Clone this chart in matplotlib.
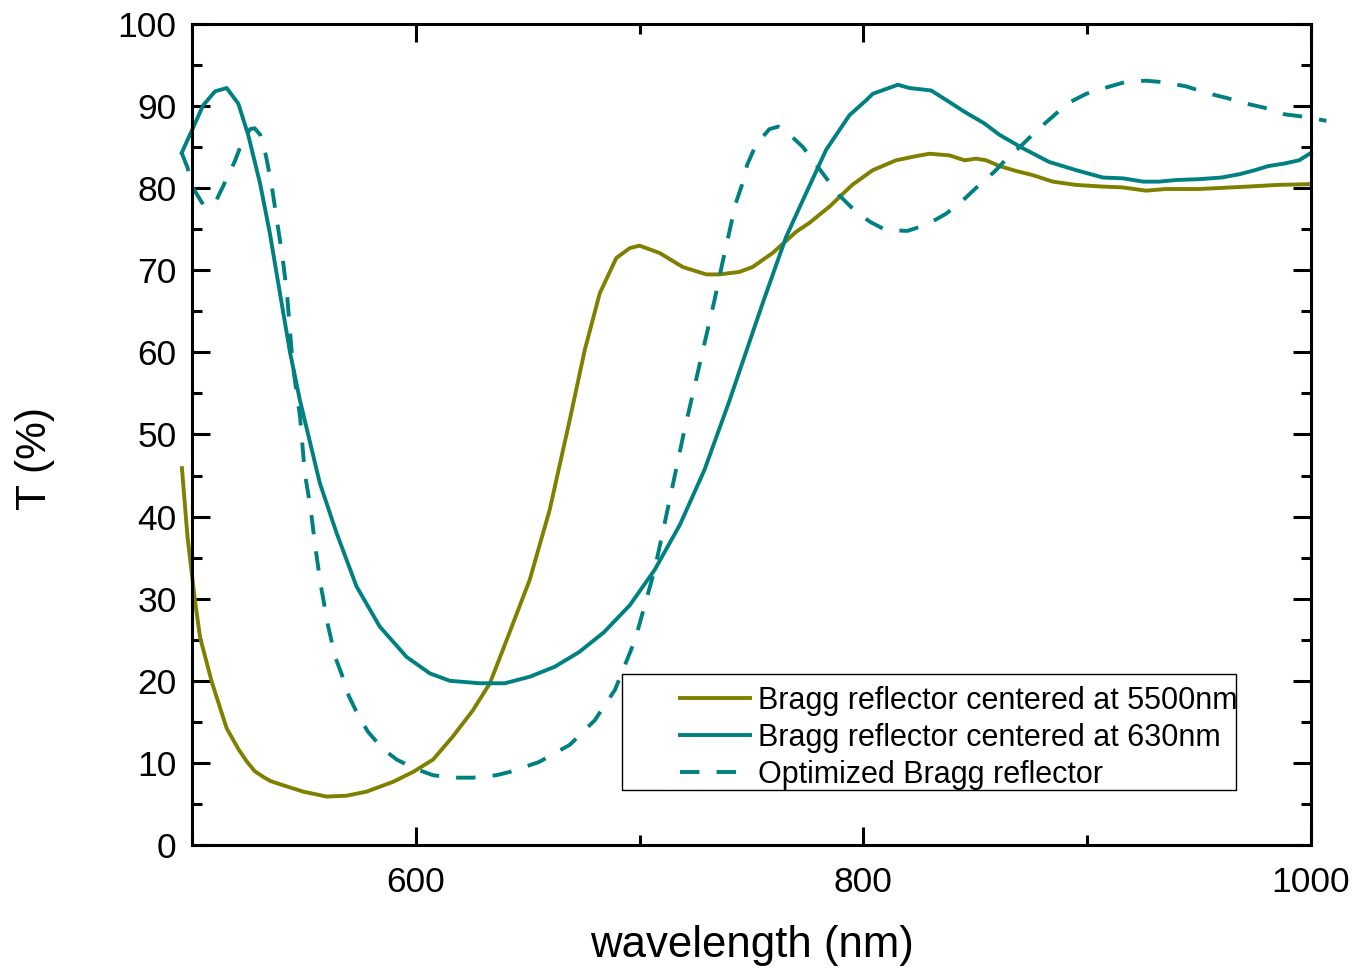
import matplotlib
matplotlib.use("Agg")
import matplotlib.pyplot as plt
from matplotlib.ticker import MultipleLocator
from matplotlib.patches import Rectangle

plt.rcParams['font.family'] = ['Liberation Sans', 'DejaVu Sans']

# Transmission spectra (wavelength in nm, T in %)
wl_5500 = [495.5, 498.0, 501.3, 503.6, 508.8, 515.5, 520.7, 524.4, 528.0, 531.8,
           535.0, 539.3, 549.7, 560.1, 569.0, 578.0, 589.9, 598.8, 607.7, 616.5,
           625.5, 633.1, 639.8, 650.9, 659.8, 668.8, 675.5, 682.2, 689.6, 695.6,
           700.0, 709.0, 719.3, 729.8, 735.7, 744.6, 750.5, 759.4, 770.0, 776.0,
           785.0, 795.0, 804.2, 814.6, 823.5, 829.5, 838.4, 845.2, 850.4, 854.8,
           860.8, 868.2, 875.6, 884.6, 895.0, 906.8, 915.7, 926.3, 935.0, 950.0,
           972.0, 985.0, 1000.0]
t_5500 = [45.9, 37.5, 29.8, 25.3, 19.9, 14.2, 11.7, 10.2, 9.0, 8.3,
          7.8, 7.4, 6.5, 5.9, 6.0, 6.5, 7.7, 8.9, 10.4, 13.2,
          16.4, 19.7, 24.4, 32.3, 40.8, 51.8, 60.3, 67.2, 71.5, 72.7,
          73.0, 72.1, 70.4, 69.5, 69.5, 69.8, 70.4, 72.1, 74.7, 75.8,
          77.8, 80.4, 82.2, 83.4, 83.9, 84.2, 84.0, 83.4, 83.6, 83.4,
          82.7, 82.1, 81.6, 80.8, 80.4, 80.2, 80.1, 79.7, 79.9, 79.9,
          80.2, 80.4, 80.5]

wl_630 = [495.4, 505.0, 510.3, 515.5, 520.7, 525.1, 530.4, 534.8, 539.3, 543.8,
          548.2, 557.1, 564.6, 573.5, 583.9, 595.9, 606.3, 615.2, 628.6, 639.8,
          651.0, 662.0, 673.0, 684.0, 695.6, 706.7, 718.0, 729.0, 740.0, 750.0,
          755.0, 765.5, 774.4, 783.4, 793.8, 801.2, 804.2, 815.4, 820.6, 830.3,
          838.4, 845.2, 854.0, 860.8, 871.0, 883.0, 895.0, 907.0, 916.0, 925.0,
          932.0, 940.0, 950.0, 960.0, 968.0, 975.0, 981.0, 988.0, 994.7, 1000.0]
t_630 = [84.3, 90.1, 91.8, 92.2, 90.3, 86.5, 80.6, 74.5, 67.2, 60.0,
         54.2, 44.1, 38.0, 31.5, 26.6, 22.9, 20.9, 20.0, 19.7, 19.7,
         20.5, 21.7, 23.5, 25.9, 29.2, 33.5, 39.0, 45.7, 54.0, 62.0,
         66.0, 74.1, 79.4, 84.7, 88.9, 90.7, 91.5, 92.6, 92.2, 91.9,
         90.5, 89.3, 87.9, 86.5, 84.9, 83.2, 82.2, 81.3, 81.2, 80.8,
         80.8, 81.0, 81.1, 81.3, 81.7, 82.2, 82.7, 83.0, 83.4, 84.3]

wl_opt = [495.4, 498.0, 500.5, 505.0, 508.0, 511.0, 514.0, 519.0, 523.0, 526.0,
          528.0, 530.5, 533.0, 535.5, 538.0, 540.5, 542.5, 545.0, 548.3, 550.4,
          553.0, 555.0, 557.5, 560.8, 564.0, 567.0, 570.0, 573.7, 578.6, 585.3,
          591.5, 599.6, 607.7, 616.5, 625.5, 636.0, 642.0, 655.0, 668.8, 680.0,
          689.0, 698.0, 706.7, 713.4, 720.0, 726.8, 733.5, 737.0, 739.0, 741.0,
          743.0, 746.0, 748.0, 752.0, 758.0, 762.0, 766.0, 773.0, 778.0, 783.5,
          789.0, 796.0, 803.0, 810.0, 819.7, 828.6, 837.0, 844.0, 851.0, 858.5,
          864.4, 871.0, 877.7, 884.5, 891.0, 899.6, 907.7, 916.6, 926.3, 934.4,
          944.3, 953.3, 962.2, 971.2, 979.2, 988.2, 997.1, 1006.9]
t_opt = [84.3, 82.5, 80.0, 78.0, 77.8, 78.6, 80.3, 83.2, 86.0, 87.2,
         87.3, 86.5, 84.0, 80.5, 76.0, 71.5, 67.0, 58.5, 52.1, 45.3,
         41.0, 36.5, 31.7, 26.7, 22.9, 20.7, 18.2, 16.1, 13.8, 11.7,
         10.4, 9.3, 8.5, 8.2, 8.2, 8.5, 8.9, 10.1, 12.2, 15.2,
         18.9, 25.0, 33.5, 42.0, 50.5, 58.5, 66.4, 70.9, 73.3, 75.8,
         78.2, 80.6, 82.8, 85.3, 87.2, 87.5, 86.8, 85.0, 83.2, 81.2,
         79.2, 77.3, 75.9, 74.9, 74.8, 75.6, 76.9, 78.4, 80.2, 82.0,
         83.7, 85.3, 87.1, 88.7, 90.3, 91.5, 92.2, 92.9, 93.1, 92.9,
         92.4, 91.6, 91.0, 90.3, 89.8, 89.0, 88.7, 88.2]

labels = ['Bragg reflector centered at 5500nm',
          'Bragg reflector centered at 630nm',
          'Optimized Bragg reflector']

OLIVE = '#808000'
TEAL = '#008080'

fig = plt.figure(figsize=(13.57, 9.71), dpi=100)
ax = fig.add_axes([192 / 1357, 1 - 845 / 971, (1311 - 192) / 1357, (845 - 24) / 971])

lw = 2.8
ax.plot(wl_5500, t_5500, color=OLIVE, lw=lw, clip_on=False, label=labels[0])
ax.plot(wl_630, t_630, color=TEAL, lw=lw, clip_on=False, label=labels[1])
ax.plot(wl_opt, t_opt, color=TEAL, lw=lw, ls=(0, (5.0, 4.4)), clip_on=False,
        label=labels[2])

ax.set_xlim(500, 1000)
ax.set_ylim(0, 100)
ax.xaxis.set_major_locator(MultipleLocator(200))
ax.xaxis.set_minor_locator(MultipleLocator(100))
ax.yaxis.set_major_locator(MultipleLocator(10))
ax.yaxis.set_minor_locator(MultipleLocator(5))

for s in ax.spines.values():
    s.set_linewidth(2.2)
ax.tick_params(which='both', direction='in', top=True, right=True, width=2.2)
ax.tick_params(which='major', length=13, labelsize=25.5)
ax.tick_params(which='minor', length=7)
ax.tick_params(axis='x', which='major', pad=15)
ax.tick_params(axis='y', which='major', pad=11)

ax.set_xlabel('wavelength (nm)', fontsize=31.5, va='center')
ax.xaxis.set_label_coords(0.5, (845 - 945) / 821)
ax.set_ylabel('T (%)', fontsize=30.5, va='center')
ax.yaxis.set_label_coords((35 - 192) / 1119, (845 - 459) / 821)

# Legend frame and entries
ax.add_patch(Rectangle(((622 - 192) / 1119, (845 - 790) / 821),
                       (1236 - 622) / 1119, (790 - 674) / 821,
                       transform=ax.transAxes, fill=True, facecolor='white',
                       edgecolor='black', lw=1.0, zorder=4))
leg = ax.legend(loc='upper left',
                bbox_to_anchor=((680 - 192) / 1119, (845 - 686) / 821),
                fontsize=22, frameon=False, handlelength=2.29,
                handletextpad=0.26, labelspacing=0.23, borderpad=0,
                borderaxespad=0)
leg.set_zorder(5)

fig.savefig('out.png', dpi=100)
